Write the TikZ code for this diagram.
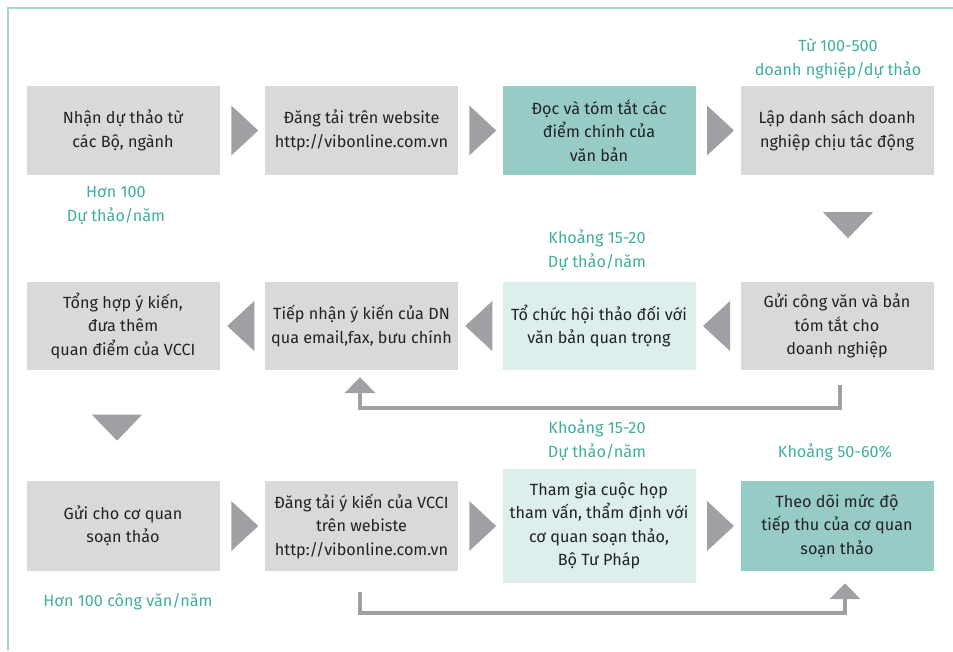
\documentclass[tikz,border=0pt]{standalone}
\usepackage{fontspec}
\setmainfont{Fira Sans}
\usetikzlibrary{arrows.meta,calc}
\definecolor{boxgray}{HTML}{D8D9DB}
\definecolor{boxteal}{HTML}{96CCC5}
\definecolor{boxlight}{HTML}{DCEFEC}
\definecolor{arrowgray}{HTML}{9FA0A4}
\definecolor{txtdark}{HTML}{222222}
\definecolor{lblteal}{HTML}{3FAE9F}
\definecolor{frameteal}{HTML}{A9D6CF}
\begin{document}
\begin{tikzpicture}[x=1pt,y=-1pt,
 box/.style={minimum width=193pt, minimum height=89pt, inner sep=0pt, align=center, text=txtdark, font=\fontsize{16.2}{23.5}\selectfont},
 grayb/.style={box, fill=boxgray},
 tealb/.style={box, fill=boxteal},
 lightb/.style={box, fill=boxlight},
 lbltext/.style={align=center, text=lblteal, font=\fontsize{16.2}{24}\selectfont, inner sep=0pt},
 fb/.style={draw=arrowgray, line width=4pt, -{Triangle[width=30pt,length=16pt]}},
 rarrow/.pic={\fill[arrowgray] (-11,-25) -- (16,0) -- (-11,25) -- cycle;},
 larrow/.pic={\fill[arrowgray] (12,-25) -- (-15,0) -- (12,25) -- cycle;},
 darrow/.pic={\fill[arrowgray] (-25,-13) -- (25,-13) -- (0,13) -- cycle;}
]
\useasboundingbox (0,0) rectangle (953,651);
\draw[frameteal, line width=2pt] (8,651) -- (8,8) -- (953,8);

% row 1
\node[grayb] (b1) at (123,130.5) {Nhận dự thảo từ\\các Bộ, ngành};
\node[grayb] (b2) at (361.5,130.5) {Đăng tải trên website\\http://vibonline.com.vn};
\node[tealb] (b3) at (599,130.5) {Đọc và tóm tắt các\\điểm chính của\\văn bản};
\node[grayb] (b4) at (837,130.5) {Lập danh sách doanh\\nghiệp chịu tác động};
% row 2
\node[grayb, minimum height=88pt] (b5) at (123,326) {Tổng hợp ý kiến,\\đưa thêm\\quan điểm của VCCI};
\node[grayb, minimum height=88pt] (b6) at (361.5,326) {Tiếp nhận ý kiến của DN\\qua email,fax, bưu chính};
\node[lightb, minimum height=88pt] (b7) at (599,326) {Tổ chức hội thảo đối với\\văn bản quan trọng};
\node[grayb, minimum height=88pt] (b8) at (837,326) {Gửi công văn và bản\\tóm tắt cho\\doanh nghiệp};
% row 3
\node[grayb, minimum height=90pt] (b9) at (123,526) {Gửi cho cơ quan\\soạn thảo};
\node[grayb, minimum height=90pt] (b10) at (361.5,526) {Đăng tải ý kiến của VCCI\\trên webiste\\http://vibonline.com.vn};
\node[lightb, minimum height=114pt] (b11) at (599,526) {Tham gia cuộc họp\\tham vấn, thẩm định với\\cơ quan soạn thảo,\\Bộ Tư Pháp};
\node[tealb, minimum height=90pt] (b12) at (837,526) {Theo dõi mức độ\\tiếp thu của cơ quan\\soạn thảo};

% arrowheads between boxes
\pic at ($(b1.east)!0.5!(b2.west)$) {rarrow};
\pic at ($(b2.east)!0.5!(b3.west)$) {rarrow};
\pic at ($(b3.east)!0.5!(b4.west)$) {rarrow};
\pic at ($(b4.south)+(11,50)$) {darrow};
\pic at ($(b8.west)!0.5!(b7.east)$) {larrow};
\pic at ($(b7.west)!0.5!(b6.east)$) {larrow};
\pic at ($(b6.west)!0.5!(b5.east)$) {larrow};
\pic at ($(b5.south)+(-6,57.5)$) {darrow};
\pic at ($(b9.east)!0.5!(b10.west)$) {rarrow};
\pic at ($(b10.east)!0.5!(b11.west)$) {rarrow};
\pic at ($(b11.east)!0.5!(b12.west)$) {rarrow};

% feedback connectors
\draw[fb] ($(b8.south)+(3,15)$) -- ++(0,23) -| ($(b6.south)+(-1.5,7)$);
\draw[fb] ($(b10.south)+(-1.5,21)$) -- ++(0,21) -| ($(b12.south)+(8,12)$);

% labels
\node[lbltext] (l1) at (116,206) {Hơn 100\\Dự thảo/năm};
\node[lbltext] (l2) at (838,59) {Từ 100-500\\doanh nghiệp/dự thảo};
\node[lbltext] (l3) at (597,250) {Khoảng 15-20\\Dự thảo/năm};
\node[lbltext] (l4) at (597,440) {Khoảng 15-20\\Dự thảo/năm};
\node[lbltext] (l5) at (835,452) {Khoảng 50-60\%};
\node[lbltext] (l6) at (128,602) {Hơn 100 công văn/năm};
\end{tikzpicture}
\end{document}
